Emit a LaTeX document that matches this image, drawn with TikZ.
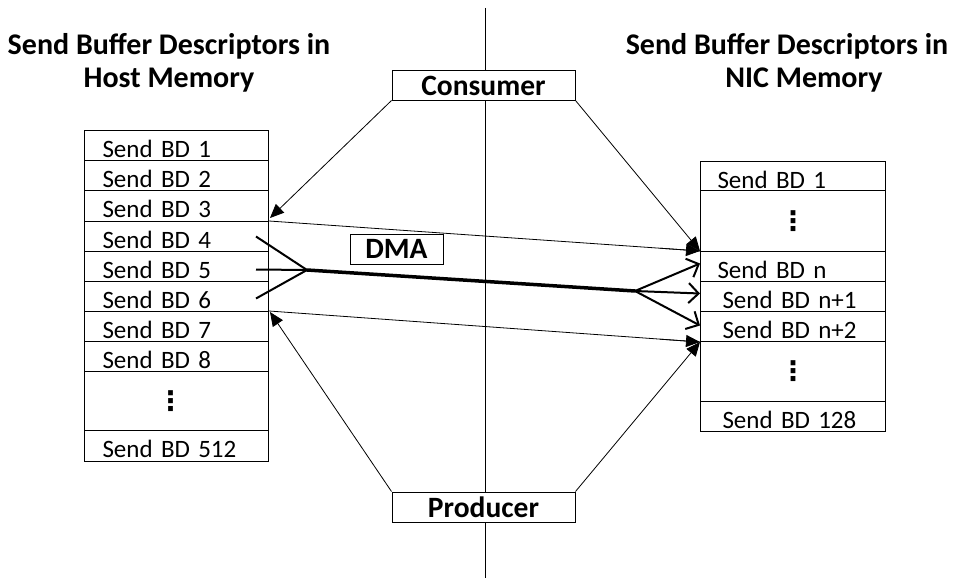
\documentclass[tikz,border=0pt]{standalone}
\usepackage{fontspec}
\setmainfont{Carlito}
\newfontfamily\dotsfont{DejaVu Sans}
\usetikzlibrary{arrows.meta}
\begin{document}
\begin{tikzpicture}[x=1pt,y=-1pt,
  title/.style={anchor=base, inner sep=0pt, font=\bfseries\fontsize{30}{35}\selectfont},
  bd/.style={draw, line width=1pt, anchor=north west, inner ysep=0pt, align=left,
    font=\fontsize{25}{29}\selectfont, text height=26.5pt},
  gapcell/.style={draw, line width=1pt, anchor=north west, inner ysep=0pt, align=center,
    font=\dotsfont\bfseries\fontsize{27}{30}\selectfont},
  tag/.style={draw, fill=white, line width=1pt, inner sep=0pt,
    font=\bfseries\fontsize{29.5}{33}\selectfont},
  ptr/.style={line width=0.8pt, -{Triangle[length=14pt,width=12pt]}},
  link/.style={line width=0.8pt},
  fan/.style={line width=2pt},
  fanout/.style={line width=2pt, -{Straight Barb[length=10pt,width=20pt]}},
  trunk/.style={line width=3.5pt, line cap=round}]
\useasboundingbox (0,0) rectangle (953,578);

% centre divider
\draw[line width=0.8pt] (485,8) coordinate (divtop) -- (485,578) coordinate (divbot);

% headings
\node[title] (tl1) at (169,55) {Send Buffer Descriptors in};
\node[title] (tl2) at (169,88) {Host Memory};
\node[title] (tr1) at (787,55) {Send Buffer Descriptors in};
\node[title] (tr2) at (804,88) {NIC Memory};

% host-side descriptor ring
\begin{scope}[every node/.append style={text width=148pt, inner xsep=18pt}]
\node[bd, text depth=3.5pt] (L1) at (84,130) {Send BD 1};
\node[bd, text depth=3.5pt] (L2) at (84,160) {Send BD 2};
\node[bd, text depth=4.5pt] (L3) at (84,190) {Send BD 3};
\node[bd, text depth=3.5pt] (L4) at (84,221) {Send BD 4};
\node[bd, text depth=3.5pt] (L5) at (84,251) {Send BD 5};
\node[bd, text depth=3.5pt] (L6) at (84,281) {Send BD 6};
\node[bd, text depth=3.5pt] (L7) at (84,311) {Send BD 7};
\node[bd, text depth=3.5pt] (L8) at (84,341) {Send BD 8};
\node[gapcell, minimum height=59pt] (Ld) at (84,371) {\hspace*{-12pt}⋮};
\node[bd, text depth=4.5pt] (L512) at (84,430) {Send BD 512};
\end{scope}

% NIC-side descriptor ring
\node[bd, text depth=2.5pt, text width=151pt, inner xsep=17pt] (R1) at (700,161) {Send BD 1};
\node[gapcell, text width=151pt, inner xsep=17pt, minimum height=61pt] (Rd1) at (700,190) {⋮};
\node[bd, text depth=3.5pt, text width=151pt, inner xsep=17pt] (Rn) at (700,251) {Send BD n};
\node[bd, text depth=3.5pt, text width=141pt, inner xsep=22pt] (Rn1) at (700,281) {Send BD n+1};
\node[bd, text depth=3.5pt, text width=141pt, inner xsep=22pt] (Rn2) at (700,311) {Send BD n+2};
\node[gapcell, text width=141pt, inner xsep=22pt, minimum height=60pt] (Rd2) at (700,341) {⋮};
\node[bd, text depth=3.5pt, text width=141pt, inner xsep=22pt] (R128) at (700,401) {Send BD 128};

% index boxes
\node[tag, minimum width=183pt, minimum height=29pt] (C) at (483.5,85.5) {Consumer};
\node[tag, minimum width=183pt, minimum height=30pt] (P) at (483.5,507) {Producer};
\node[tag, minimum width=93pt, minimum height=30pt] (D) at (396.5,249) {DMA};

% consumer index
\draw[ptr] (C.south west) -- ([shift={(1,-3)}]L4.north east);
\draw[ptr] (C.south east) -- (Rn.north west);
\draw[link] (L4.north east) -- (Rn.north west);
\draw[ptr] (Rn.north west) ++(-40,-2.8) -- (Rn.north west);

% producer index
\draw[ptr] (P.north west) -- ([shift={(1,1)}]L7.north east);
\draw[ptr] (P.north east) -- (Rn2.south west);
\draw[link] (L7.north east) -- (Rn2.south west);
\draw[ptr] (Rn2.south west) ++(-40,-2.8) -- (Rn2.south west);

% DMA transfer
\coordinate (dmaL) at (307,270);
\coordinate (dmaR) at (635,291);
\draw[fan] ([xshift=-13pt]L4.east) -- (dmaL);
\draw[fan] ([shift={(-13,3)}]L5.east) -- (dmaL);
\draw[fan] ([shift={(-13,2)}]L6.east) -- (dmaL);
\draw[trunk] (dmaL) -- (dmaR);
\draw[fanout] (dmaR) -- ([yshift=3pt]Rn.west);
\draw[fanout] (dmaR) -- ([yshift=3pt]Rn1.west);
\draw[fanout] (dmaR) -- ([yshift=1pt]Rn2.west);
\end{tikzpicture}
\end{document}
